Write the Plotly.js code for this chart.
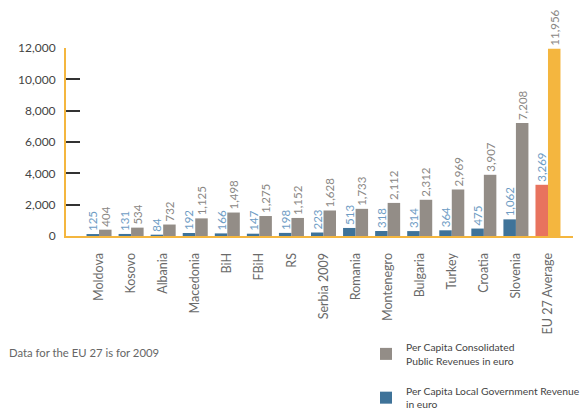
<!DOCTYPE html>
<html>
<head>
<meta charset="utf-8">
<script src="https://cdn.plot.ly/plotly-3.0.1.min.js"></script>
<style>html,body{margin:0;padding:0;background:#fff;}#chart{width:582px;height:411px;}</style>
</head>
<body>
<div id="chart"></div>
<script>
const categories = ["Moldova","Kosovo","Albania","Macedonia","BiH","FBiH","RS","Serbia 2009","Romania","Montenegro","Bulgaria","Turkey","Croatia","Slovenia","EU 27 Average"];
const localRevenue = [125,131,84,192,166,147,198,223,513,318,314,364,475,1062,3269];
const consolidatedRevenue = [404,534,732,1125,1498,1275,1152,1628,1733,2112,2312,2969,3907,7208,11956];
const yTicks = [0,2000,4000,6000,8000,10000,12000];
const localName = "Per Capita Local Government Revenue<br>in euro";
const consolidatedName = "Per Capita Consolidated<br>Public Revenues in euro";
const note = "Data for the EU 27 is for 2009";

const blue = "#3f7399", red = "#e8735e", gray = "#938d87", orange = "#f4b63f";
const last = categories.length - 1;
const localColors = categories.map((c, i) => i === last ? red : blue);
const consColors = categories.map((c, i) => i === last ? orange : gray);

const FONT = "Lato, 'Open Sans', sans-serif";

const traces = [
  {
    type: "bar", x: categories, y: localRevenue, name: localName,
    legendgroup: "local", legendrank: 2,
    marker: {color: localColors, line: {width: 0}},
    texttemplate: "%{y:,}", textposition: "outside", textangle: -90,
    constraintext: "none", cliponaxis: false,
    textfont: {family: FONT, size: 11.5, color: "#6e9cc4"},
    hoverinfo: "skip"
  },
  {
    type: "bar", x: categories, y: consolidatedRevenue, name: consolidatedName,
    legendgroup: "cons", legendrank: 1,
    marker: {color: consColors, line: {width: 0}},
    texttemplate: "%{y:,}", textposition: "outside", textangle: -90,
    constraintext: "none", cliponaxis: false,
    textfont: {family: FONT, size: 11.5, color: "#8a8784"},
    hoverinfo: "skip"
  }
];

const plotLeft = 66, plotRight = 573;
const plotW = plotRight - plotLeft;

const layout = {
  width: 582, height: 411,
  margin: {l: plotLeft, r: 582 - plotRight, t: 48, b: 175, pad: 0, autoexpand: false},
  paper_bgcolor: "#ffffff", plot_bgcolor: "rgba(0,0,0,0)",
  font: {family: FONT, color: "#444"},
  barmode: "group", bargap: 0.22, bargroupgap: 0,
  showlegend: true,
  legend: {
    x: (366 - plotLeft) / plotW, y: (236 - 334) / 188,
    xanchor: "left", yanchor: "top",
    traceorder: "grouped", tracegroupgap: 14,
    font: {family: FONT, size: 10.3, color: "#444"},
    bgcolor: "rgba(0,0,0,0)"
  },
  xaxis: {
    type: "category", range: [-1.03, 14.78],
    showline: true, linecolor: orange, linewidth: 2,
    tickangle: -90, ticks: "", showgrid: false, zeroline: false,
    ticklabelstandoff: 10,
    tickfont: {family: FONT, size: 12.5, color: "#6a6a6a"},
    fixedrange: true
  },
  yaxis: {
    range: [0, 12000], tickmode: "array", tickvals: yTicks,
    tickformat: ",", showline: true, linecolor: orange, linewidth: 2,
    ticks: "inside", ticklen: 14, tickwidth: 2, tickcolor: "#333",
    showgrid: false, zeroline: false, ticklabelstandoff: 6,
    tickfont: {family: FONT, size: 12, color: "#444"},
    fixedrange: true
  },
  annotations: [{
    text: note, xref: "paper", yref: "paper",
    x: (7 - plotLeft) / plotW, y: (236 - 352) / 188,
    xanchor: "left", yanchor: "middle", showarrow: false,
    font: {family: FONT, size: 11.3, color: "#666"}
  }]
};

Plotly.newPlot("chart", traces, layout, {displayModeBar: false, staticPlot: true});
</script>
</body>
</html>
